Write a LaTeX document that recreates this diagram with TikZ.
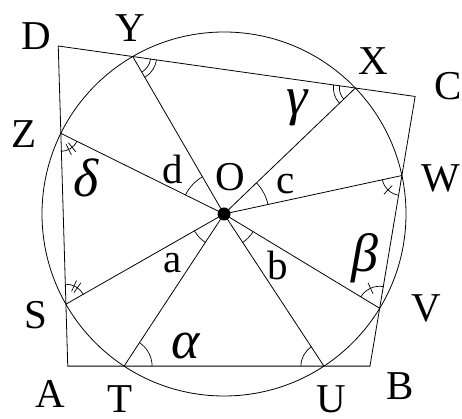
\documentclass[tikz,border=0pt]{standalone}
\usepackage{fontspec}
\setmainfont{Liberation Serif}
\usetikzlibrary{angles, calc}

\tikzset{
  lbl/.style={font=\fontsize{41}{46}\selectfont, inner sep=0pt},
  greek/.style={font=\fontsize{54}{60}\selectfont\itshape, inner sep=0pt},
  anglemark/.style={draw, line width=0.7pt},
}
\newcommand{\ticker}[3]{\draw[line width=0.7pt] (#1) ++(#2:{#3-6}) -- ++(#2:12);}

\begin{document}
\begin{tikzpicture}[x=1pt, y=1pt, line width=0.8pt]
  \useasboundingbox (0,0) rectangle (462,419);
  \coordinate (O) at (224,205);
  \draw (O) circle[radius=182];
  % points on the circle
  \coordinate (Y) at ($(O)+(120.1:182)$);
  \coordinate (X) at ($(O)+(43.8:182)$);
  \coordinate (W) at ($(O)+(12.2:182)$);
  \coordinate (V) at ($(O)+(-31.2:182)$);
  \coordinate (U) at ($(O)+(-56.7:182)$);
  \coordinate (T) at ($(O)+(236.7:182)$);
  \coordinate (S) at ($(O)+(209.7:182)$);
  \coordinate (Z) at ($(O)+(153.7:182)$);
  % corners of the quadrilateral
  \coordinate (D) at (intersection of Y--X and Z--S);
  \coordinate (C) at (intersection of Y--X and W--V);
  \coordinate (B) at (intersection of T--U and W--V);
  \coordinate (A) at (intersection of T--U and Z--S);
  \draw (D) -- (C) -- (B) -- (A) -- cycle;
  \foreach \p in {Y,X,W,V,U,T,S,Z} \draw (O) -- (\p);
  \fill (O) circle[radius=6.5];

  % angle marks
  \pic[anglemark, angle radius=18] {angle=O--Y--X};
  \pic[anglemark, angle radius=24] {angle=O--Y--X};
  \pic[anglemark, angle radius=16] {angle=Y--X--O};
  \pic[anglemark, angle radius=22] {angle=Y--X--O};
  \pic[anglemark, angle radius=20] {angle=O--W--V};
  \ticker{W}{226}{20}
  \pic[anglemark, angle radius=22] {angle=W--V--O};
  \ticker{V}{114.6}{22}
  \pic[anglemark, angle radius=23] {angle=O--U--T};
  \pic[anglemark, angle radius=28] {angle=U--T--O};
  \pic[anglemark, angle radius=20] {angle=O--S--Z};
  \ticker{S}{55}{20}
  \ticker{S}{66}{20}
  \pic[anglemark, angle radius=18] {angle=S--Z--O};
  \ticker{Z}{296}{18}
  \ticker{Z}{309}{18}
  \pic[anglemark, angle radius=43] {angle=Y--O--Z};
  \pic[anglemark, angle radius=45] {angle=W--O--X};
  \pic[anglemark, angle radius=34] {angle=S--O--T};
  \pic[anglemark, angle radius=34] {angle=U--O--V};

  % labels
  \node[lbl] (lD) at (36,383) {D};
  \node[lbl] (lY) at (130,391) {Y};
  \node[lbl] (lX) at (373,358) {X};
  \node[lbl] (lC) at (448,333) {C};
  \node[lbl] (lZ) at (24,285) {Z};
  \node[lbl] (lW) at (441,241) {W};
  \node[lbl] (lO) at (230,242) {O};
  \node[lbl] (ld) at (173,250) {d};
  \node[lbl] (lc) at (286,235) {c};
  \node[lbl] (la) at (173,156) {a};
  \node[lbl] (lb) at (278,154) {b};
  \node[lbl] (lS) at (36,104) {S};
  \node[lbl] (lV) at (426,111) {V};
  \node[lbl] (lA) at (50,25) {A};
  \node[lbl] (lT) at (120,20) {T};
  \node[lbl] (lU) at (331,20) {U};
  \node[lbl] (lB) at (400,33) {B};
  \node[greek] (lgamma) at (297,311) {γ};
  \node[greek] (ldelta) at (86,241) {δ};
  \node[greek] (lbeta) at (365,161) {β};
  \node[greek] (lalpha) at (186,73) {α};
\end{tikzpicture}
\end{document}
